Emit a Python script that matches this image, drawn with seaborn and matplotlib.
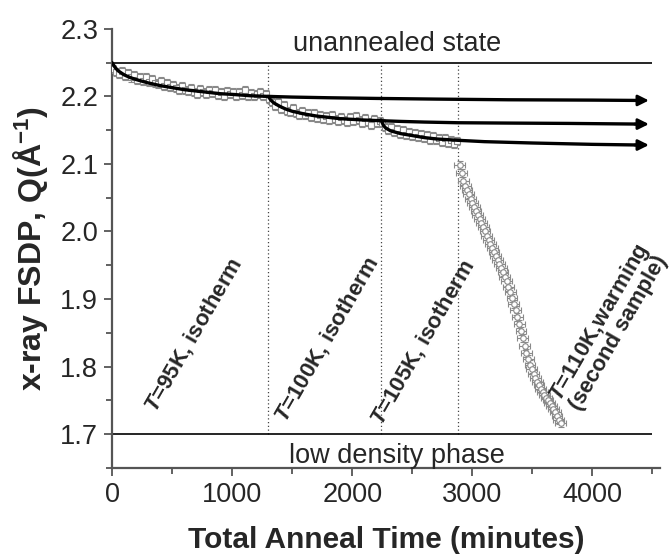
import matplotlib
matplotlib.use("Agg")
import matplotlib.pyplot as plt
from matplotlib.ticker import MultipleLocator
import pandas as pd
import seaborn as sns

# isotherm data (open squares)
t_95 = [10, 35, 60, 85, 110, 135, 160, 185, 210, 235, 260, 285, 310, 335, 360,
        385, 410, 435, 460, 485, 510, 535, 560, 585, 610, 635, 660, 685, 710,
        735, 760, 785, 810, 835, 860, 885, 910, 935, 960, 985, 1010, 1035,
        1060, 1085, 1110, 1135, 1160, 1185, 1210, 1235, 1260, 1285]
q_95 = [2.240, 2.236, 2.233, 2.237, 2.230, 2.234, 2.228, 2.231, 2.225, 2.229,
        2.223, 2.228, 2.221, 2.226, 2.220, 2.218, 2.223, 2.216, 2.220, 2.214,
        2.217, 2.212, 2.209, 2.216, 2.210, 2.208, 2.213, 2.207, 2.204, 2.211,
        2.206, 2.203, 2.209, 2.205, 2.210, 2.202, 2.207, 2.201, 2.208, 2.203,
        2.206, 2.200, 2.207, 2.202, 2.209, 2.201, 2.205, 2.200, 2.203, 2.206,
        2.201, 2.204]

t_100 = [1310, 1335, 1360, 1385, 1410, 1435, 1460, 1485, 1510, 1535, 1560,
         1585, 1610, 1635, 1660, 1685, 1710, 1735, 1760, 1785, 1810, 1835,
         1860, 1885, 1910, 1935, 1960, 1985, 2010, 2035, 2060, 2085, 2110,
         2135, 2160, 2185, 2210, 2235]
q_100 = [2.196, 2.192, 2.186, 2.191, 2.182, 2.187, 2.179, 2.177, 2.183, 2.175,
         2.173, 2.179, 2.172, 2.176, 2.169, 2.175, 2.168, 2.173, 2.167, 2.171,
         2.165, 2.172, 2.166, 2.163, 2.170, 2.165, 2.162, 2.169, 2.164, 2.171,
         2.165, 2.161, 2.168, 2.162, 2.158, 2.167, 2.160, 2.164]

t_105 = [2250, 2275, 2300, 2325, 2350, 2375, 2400, 2425, 2450, 2475, 2500,
         2525, 2550, 2575, 2600, 2625, 2650, 2675, 2700, 2725, 2750, 2775,
         2800, 2825, 2850, 2875]
q_105 = [2.160, 2.155, 2.150, 2.154, 2.147, 2.151, 2.145, 2.150, 2.143, 2.147,
         2.141, 2.146, 2.140, 2.144, 2.138, 2.143, 2.136, 2.141, 2.135, 2.139,
         2.133, 2.138, 2.131, 2.136, 2.130, 2.134]

# warming run, second sample (open circles)
t_warm = [2895, 2910, 2925, 2940, 2955, 2970, 2985, 3000, 3015, 3030, 3045,
          3060, 3075, 3090, 3105, 3120, 3135, 3150, 3165, 3180, 3195, 3210,
          3225, 3240, 3255, 3270, 3285, 3300, 3315, 3330, 3345, 3360, 3375,
          3390, 3405, 3420, 3435, 3450, 3465, 3480, 3495, 3510, 3525, 3540,
          3555, 3570, 3585, 3600, 3615, 3630, 3645, 3660, 3675, 3690, 3705,
          3720, 3735]
q_warm = [2.098, 2.086, 2.075, 2.068, 2.061, 2.055, 2.048, 2.042, 2.036, 2.030,
          2.024, 2.018, 2.012, 2.006, 2.000, 1.994, 1.988, 1.982, 1.976, 1.970,
          1.964, 1.958, 1.952, 1.946, 1.940, 1.933, 1.926, 1.918, 1.910, 1.901,
          1.892, 1.883, 1.873, 1.863, 1.853, 1.842, 1.831, 1.820, 1.811, 1.803,
          1.796, 1.789, 1.783, 1.777, 1.772, 1.767, 1.762, 1.758, 1.754, 1.750,
          1.746, 1.742, 1.737, 1.732, 1.727, 1.721, 1.716]

# fitted relaxation curves, extrapolated (arrows)
fit1_t = [0, 25, 50, 100, 150, 200, 300, 400, 500, 600, 700, 800, 900, 1000,
          1150, 1300, 1500, 1800, 2200, 2700, 3300, 4000, 4400]
fit1_q = [2.250, 2.243, 2.238, 2.232, 2.228, 2.225, 2.220, 2.216, 2.213, 2.210,
          2.208, 2.206, 2.204, 2.203, 2.201, 2.200, 2.199, 2.198, 2.197, 2.196,
          2.195, 2.1945, 2.194]
fit2_t = [1300, 1325, 1350, 1400, 1450, 1500, 1600, 1700, 1800, 1900, 2000,
          2100, 2240, 2400, 2600, 2880, 3300, 3800, 4400]
fit2_q = [2.200, 2.194, 2.190, 2.185, 2.181, 2.178, 2.174, 2.171, 2.169, 2.167,
          2.166, 2.165, 2.164, 2.163, 2.162, 2.161, 2.1605, 2.160, 2.159]
fit3_t = [2240, 2260, 2280, 2320, 2400, 2500, 2600, 2700, 2880, 3100, 3500,
          4000, 4400]
fit3_q = [2.165, 2.157, 2.153, 2.149, 2.145, 2.142, 2.139, 2.137, 2.135, 2.133,
          2.131, 2.129, 2.128]

switch_times = [1300, 2240, 2880]
q_unannealed = 2.25
q_lda = 1.70

sns.set_style("ticks")
plt.rcParams["font.family"] = ["Liberation Sans", "DejaVu Sans"]
plt.rcParams["mathtext.fontset"] = "custom"
plt.rcParams["mathtext.rm"] = "Liberation Sans"
plt.rcParams["mathtext.it"] = "Liberation Sans:italic:bold"
plt.rcParams["mathtext.bf"] = "Liberation Sans:bold"

fig = plt.figure(figsize=(6.72, 5.55), dpi=100)
ax = fig.add_axes([0.1667, 0.157, 0.815, 0.791])

grey = "#8a8a8a"

# reference levels and temperature switches
ax.hlines([q_unannealed, q_lda], 0, 4500, color="black", lw=1.2, zorder=2)
ax.vlines(switch_times, q_lda, q_unannealed, color="#444444", lw=0.9,
          linestyles=(0, (1, 2)), zorder=1)

# isotherm squares with error bars
iso = pd.DataFrame({"t": t_95 + t_100 + t_105, "q": q_95 + q_100 + q_105})
ax.errorbar(iso["t"], iso["q"], yerr=0.006, fmt="none", ecolor=grey,
            elinewidth=0.8, capsize=2, capthick=0.8, zorder=3)
sns.scatterplot(data=iso, x="t", y="q", marker="s", s=14, facecolor="white",
                edgecolor=grey, linewidth=0.8, ax=ax, zorder=4)

# warming circles
warm = pd.DataFrame({"t": t_warm, "q": q_warm})
ax.errorbar(warm["t"], warm["q"], xerr=45, yerr=0.006, fmt="none",
            ecolor=grey, elinewidth=0.8, capsize=2, capthick=0.8, zorder=3)
sns.scatterplot(data=warm, x="t", y="q", marker="o", s=16, facecolor="white",
                edgecolor=grey, linewidth=0.8, ax=ax, zorder=4)

# fits with arrows
for ft, fq in [(fit1_t, fit1_q), (fit2_t, fit2_q), (fit3_t, fit3_q)]:
    sns.lineplot(x=ft, y=fq, color="black", lw=2.4, estimator=None,
                 sort=False, ax=ax, zorder=5)
    ax.annotate("", xy=(4470, fq[-1]), xytext=(4350, fq[-1]),
                arrowprops=dict(arrowstyle="-|>", color="black", lw=2.0,
                                mutation_scale=16, shrinkA=0, shrinkB=0),
                zorder=6)

ax.text(2370, 2.277, "unannealed state", ha="center", va="center", fontsize=19.5)
ax.text(2370, 1.667, "low density phase", ha="center", va="center", fontsize=19.5)

labels = [(680, 1.847, "$T$=95K, isotherm"),
          (1790, 1.840, "$T$=100K, isotherm"),
          (2585, 1.836, "$T$=105K, isotherm"),
          (4130, 1.858, "$T$=110K,warming\n(second sample)")]
for lx, ly, txt in labels:
    ax.text(lx, ly, txt, rotation=60, ha="center", va="center",
            multialignment="center", fontsize=16, fontweight="bold",
            rotation_mode="anchor", linespacing=0.9)

ax.set_xlim(0, 4560)
ax.set_ylim(1.65, 2.30)
ax.xaxis.set_major_locator(MultipleLocator(1000))
ax.xaxis.set_minor_locator(MultipleLocator(500))
ax.yaxis.set_major_locator(MultipleLocator(0.1))
ax.yaxis.set_minor_locator(MultipleLocator(0.05))
ax.yaxis.set_major_formatter(matplotlib.ticker.FormatStrFormatter("%.1f"))
ax.tick_params(which="major", length=6, width=1.3, labelsize=19.5,
               color="#555555", pad=4)
ax.tick_params(which="minor", length=4, width=1.3, color="#555555")
sns.despine(ax=ax)
for side in ["left", "bottom"]:
    ax.spines[side].set_linewidth(1.6)
    ax.spines[side].set_color("#555555")

ax.set_xlabel("Total Anneal Time (minutes)", fontsize=21.5, fontweight="bold")
ax.set_ylabel("x-ray FSDP, Q(Å$^{\\mathbf{-1}}$)", fontsize=23,
              fontweight="bold")
ax.xaxis.set_label_coords(0.5, -0.132)
ax.yaxis.set_label_coords(-0.113, 0.5)

fig.savefig("out.png", dpi=100)
